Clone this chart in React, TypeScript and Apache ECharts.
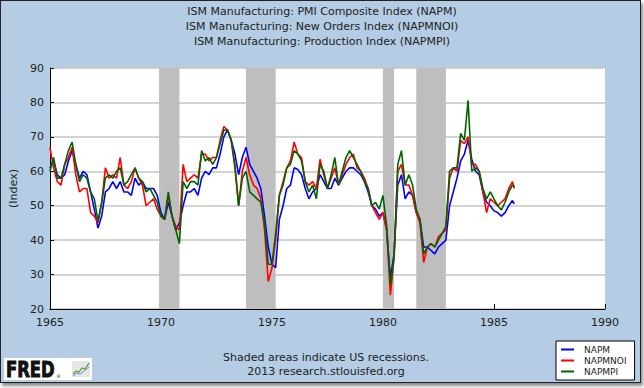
import React, { useEffect, useRef } from "react";
import * as echarts from "echarts";

// ---- data (bimonthly readings: Jan, Mar, May, Jul, Sep, Nov; last value = Dec 1985)
const firstYear = 1965;
const lastYear = 1985;
const sampleMonths = [1, 3, 5, 7, 9, 11];
const finalMonth = [1985, 12];

const napm = [
  61, 63, 59, 58, 59, 63,
  66, 62, 58, 60, 59, 54,
  49, 43.5, 47, 54, 55, 57,
  55, 57, 54, 54, 53, 58,
  56, 57, 55, 55, 55, 53,
  48, 46, 51, 47, 43, 45,
  50, 54, 54, 55, 53, 58,
  60, 59, 61, 61, 65, 70,
  72, 69, 65, 59, 64, 67,
  62, 60, 58, 55, 47, 38,
  33, 32, 46, 50, 55, 56,
  61, 60.5, 59, 55, 52, 54,
  55, 59, 57, 55, 55, 58,
  56, 58, 60, 61, 61, 60,
  59, 57, 54, 50, 49, 47,
  48, 43, 29, 36, 56, 59,
  52, 54, 53, 48, 46, 38,
  38, 37, 36, 38, 39, 40,
  50, 54, 58, 63, 65, 69,
  63.5, 60, 59, 54, 51, 50,
  48.5, 48, 47, 48, 50, 51.5, 50.5,
];

const napmnoi = [
  67, 61, 57, 56, 62, 64,
  67, 59, 54, 55, 55, 48,
  47, 45, 51, 61, 58, 59,
  58, 64, 56, 55, 57, 61,
  58, 56, 50, 51, 52, 49,
  47, 46, 53, 47, 44, 43,
  62, 57, 58, 59, 58, 65,
  65, 63, 64, 64, 69, 73,
  72, 69, 62, 50, 60, 64,
  59, 56, 55, 52, 43, 28,
  32, 40, 53, 57, 61, 63,
  68.5, 65, 64, 57, 56, 57,
  55, 63.5, 59, 55, 58, 61,
  56, 59, 62, 64, 65, 61,
  60, 58, 55, 50, 48, 46,
  48, 43, 24, 35, 60, 62,
  56, 56, 53, 48, 45, 33.5,
  38, 39, 38, 41, 42, 43,
  58, 61, 60, 69, 68, 70,
  62, 62, 60, 54, 48, 52,
  51, 50, 51, 52, 55, 57, 55,
];

const napmpi = [
  60, 64, 58, 58, 62, 66,
  68.5, 62, 57, 59, 58, 54,
  52, 45.5, 51, 58, 59, 58,
  60, 61, 56, 57, 59, 61,
  58, 57, 54, 55, 53, 51,
  47, 46, 54, 47, 43, 39,
  57, 55, 57, 57, 56, 66,
  63, 64, 62, 64, 68, 72,
  72, 69, 61, 50, 58, 60,
  54, 53, 52, 51, 45, 33,
  33, 42, 53, 56, 61, 62,
  66, 65, 63, 57, 54, 56,
  52, 62, 60, 55, 59, 64,
  56, 60, 64, 66, 64, 62,
  60, 57, 55, 50, 51, 49,
  53, 44, 27, 35, 62, 66,
  56, 59, 56, 49, 46, 36,
  38, 39, 38, 40, 42, 44,
  60, 61, 61, 71, 69, 80.6,
  60, 61, 60, 55, 52, 54,
  52, 50, 48.8, 51, 54, 56, 55.5,
];

// recessions (start, end) as decimal years
const recessions = [
  [1969.917, 1970.833],
  [1973.833, 1975.167],
  [1980.0, 1980.5],
  [1981.5, 1982.833],
];

const titleLines = [
  "ISM Manufacturing: PMI Composite Index (NAPM)",
  "ISM Manufacturing: New Orders Index (NAPMNOI)",
  "ISM Manufacturing: Production Index (NAPMPI)",
];

const seriesNames = ["NAPM", "NAPMNOI", "NAPMPI"];
const seriesColors = ["#0000FF", "#FF0000", "#006400"];

function buildDates(): number[] {
  const d: number[] = [];
  for (let y = firstYear; y <= lastYear; y++) {
    for (const m of sampleMonths) d.push(y + (m - 1) / 12);
  }
  d.push(finalMonth[0] + (finalMonth[1] - 1) / 12);
  return d;
}

export default function App() {
  const ref = useRef<HTMLDivElement>(null);

  useEffect(() => {
    document.body.style.margin = "0";
    if (!ref.current) return;
    const chart = echarts.init(ref.current, undefined, { renderer: "svg" });
    const dates = buildDates();
    const all = [napm, napmnoi, napmpi];
    const font = "DejaVu Sans";

    const lineSeries = all.map((vals, i) => ({
      type: "line",
      name: seriesNames[i],
      data: vals.map((v, k) => [dates[k], v]),
      showSymbol: false,
      symbol: "none",
      z: 3 + i,
      lineStyle: { color: seriesColors[i], width: 1.6 },
      itemStyle: { color: seriesColors[i] },
    }));

    chart.setOption({
      animation: false,
      backgroundColor: "transparent",
      title: {
        text: titleLines.join("\n"),
        left: "center",
        top: -1,
        textStyle: {
          fontFamily: font,
          fontSize: 11,
          fontWeight: "normal",
          color: "#222",
          lineHeight: 15,
        },
      },
      grid: {
        left: 48,
        right: 39,
        top: 68,
        bottom: 79,
        show: true,
        backgroundColor: "#FFFFFF",
        borderWidth: 0,
      },
      legend: {
        orient: "vertical",
        left: 556,
        top: 341,
        data: seriesNames,
        icon: "rect",
        itemWidth: 13,
        itemHeight: 2,
        itemGap: 2,
        padding: [4, 8, 4, 5],
        backgroundColor: "#FFFFFF",
        borderColor: "#000",
        borderWidth: 1,
        selectedMode: false,
        textStyle: {
          fontFamily: font,
          fontSize: 9,
          color: "#222",
          lineHeight: 9,
          padding: [0, 0, 0, 5],
        },
      },
      xAxis: {
        type: "value",
        min: 1965,
        max: 1990,
        interval: 5,
        splitLine: { show: false },
        axisLine: { show: true, lineStyle: { color: "#000", width: 1 } },
        axisTick: { show: true, inside: true, length: 5, lineStyle: { color: "#000" } },
        axisLabel: {
          fontFamily: font,
          fontSize: 11,
          color: "#222",
          margin: 8,
          formatter: (v: number) => String(Math.round(v)),
        },
      },
      yAxis: {
        type: "value",
        min: 20,
        max: 90,
        interval: 10,
        name: "(Index)",
        nameLocation: "middle",
        nameGap: 15,
        nameTextStyle: { fontFamily: font, fontSize: 11, color: "#222" },
        splitLine: { show: true, lineStyle: { color: "#C4C4C4", width: 1.5 } },
        axisLine: { show: true, lineStyle: { color: "#000", width: 1 } },
        axisTick: { show: true, inside: true, length: 4, lineStyle: { color: "#000" } },
        axisLabel: { fontFamily: font, fontSize: 11, color: "#222", margin: 6 },
      },
      series: [
        {
          type: "line",
          name: "recessions",
          data: [],
          z: 1,
          silent: true,
          markArea: {
            silent: true,
            itemStyle: { color: "#BEBEBE", opacity: 1 },
            data: recessions.map(([a, b]) => [{ xAxis: a }, { xAxis: b }]),
          },
        },
        ...lineSeries,
      ],
      graphic: [
        {
          type: "text",
          x: 326,
          y: 357,
          style: {
            text: "Shaded areas indicate US recessions.",
            fontFamily: font,
            fontSize: 11,
            fill: "#222",
            textAlign: "center",
            textVerticalAlign: "middle",
          },
        },
        {
          type: "text",
          x: 326,
          y: 371,
          style: {
            text: "2013 research.stlouisfed.org",
            fontFamily: font,
            fontSize: 11,
            fill: "#222",
            textAlign: "center",
            textVerticalAlign: "middle",
          },
        },
        {
          type: "rect",
          shape: { x: 4, y: 358, width: 88, height: 22 },
          style: { fill: "#FFFFFF" },
        },
        {
          type: "text",
          x: 6,
          y: 369.5,
          scaleX: 0.78,
          style: {
            text: "FRED",
            fontFamily: "DejaVu Sans",
            fontSize: 21,
            fontWeight: "bold",
            fill: "#111",
            stroke: "#111",
            lineWidth: 1,
            textVerticalAlign: "middle",
          },
        },
        {
          type: "text",
          x: 56,
          y: 376,
          style: { text: "®", fontFamily: font, fontSize: 5, fill: "#333", textVerticalAlign: "middle" },
        },
        {
          type: "rect",
          shape: { x: 72, y: 361, width: 18, height: 16 },
          style: { fill: "#E6E6E6" },
        },
        {
          type: "polyline",
          shape: { points: [[73, 374], [76, 371], [79, 372], [82, 368], [85, 369], [89, 363]] },
          style: { stroke: "#5A9A3A", lineWidth: 1.2, fill: "none" },
        },
        {
          type: "polyline",
          shape: { points: [[73, 376], [77, 373], [80, 374], [84, 371], [89, 367]] },
          style: { stroke: "#6A8FC0", lineWidth: 1, fill: "none" },
        },
      ],
    });

    return () => chart.dispose();
  }, []);

  return (
    <div style={{ position: "relative", width: 644, height: 388, background: "#FFFFFF", overflow: "hidden" }}>
      <div
        style={{
          position: "absolute",
          left: 0,
          top: 0,
          width: 639,
          height: 381,
          background: "#B4CCE4",
          border: "1px solid #222",
          boxShadow: "2px 3px 3px rgba(0,0,0,0.45)",
        }}
      />
      <div ref={ref} style={{ position: "absolute", left: 0, top: 0, width: 644, height: 388 }} />
    </div>
  );
}
